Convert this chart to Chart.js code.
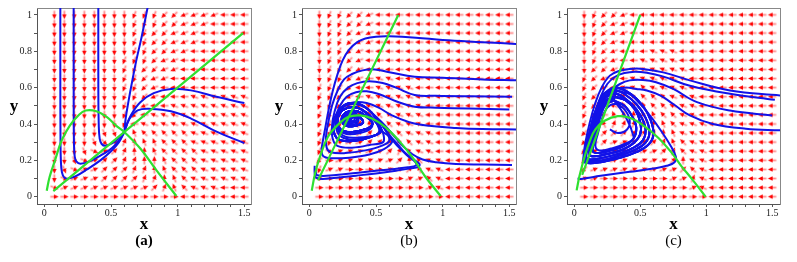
<!DOCTYPE html>
<html><head><meta charset="utf-8">
<script src="https://cdn.jsdelivr.net/npm/chart.js@4.4.1/dist/chart.umd.min.js"></script>
<style>
html,body{margin:0;padding:0;background:#fff;}
#wrap{position:relative;width:797px;height:262px;overflow:hidden;}
canvas{position:absolute;top:0;}
</style></head><body>
<div id="wrap">
<canvas id="ca" width="265" height="262" style="left:0px"></canvas>
<canvas id="cb" width="265" height="262" style="left:265px"></canvas>
<canvas id="cc" width="267" height="262" style="left:530px"></canvas>
</div>
<script>
// ---------- tick labels / captions ----------
const CAPTIONS = ['(a)', '(b)', '(c)'];
const X_TICKS = [0,0.1,0.2,0.3,0.4,0.5,0.6,0.7,0.8,0.9,1,1.1,1.2,1.3,1.4,1.5];
const X_TICK_LABELS = ['0','','','','','0.5','','','','','1','','','','','1.5'];
const Y_TICKS = [0,0.1,0.2,0.3,0.4,0.5,0.6,0.7,0.8,0.9,1];
const Y_TICK_LABELS = ['0','','0.2','','0.4','','0.6','','0.8','','1'];

// ---------- direction-field grid ----------
const X_GRID = [0.075,0.15,0.225,0.3,0.375,0.45,0.525,0.6,0.675,0.75,0.825,0.9,0.975,1.05,1.125,1.2,1.275,1.35,1.425,1.5];
const Y_GRID = [1,0.95,0.9,0.85,0.8,0.75,0.7,0.65,0.6,0.55,0.5,0.45,0.4,0.35,0.3,0.25,0.2,0.15,0.1,0.05,0];
// direction codes: hex digit d -> angle d*22.5 deg counter-clockwise from "right"; '-' = no arrow
const FIELD_A = [
"ccccccccbbbaa9999888",
"ccccccccbbbaa9998888",
"ccccccccbbaa99988888",
"ccccccccbbaa99988888",
"ccccccccbbaa99888888",
"cccccccbbba998888888",
"cccccccbbaa998888888",
"cccccccbba9988888888",
"cccccccbba9888888888",
"cccccccbba9888777777",
"cccccccbb98877777777",
"cccccccba87777777777",
"cccccccb877777777777",
"cccccdd-566666777777",
"ccccde13455666777777",
"cccdf123445666677777",
"ccdf1223344566677777",
"cdf11222334566677777",
"cf111222233456777777",
"f1111111112356777888",
"00000000000008888888"];
const FIELD_B = [
"cbbaa988888888888888",
"cbbaa988888888888888",
"cbba9988888888888888",
"cbba9988888888888888",
"cbba9888888888888888",
"cbba9888888888888888",
"cbba9888888888888888",
"cbba9877888888888888",
"bbaa8877778888888888",
"bba98777778888888888",
"bba97777777888888888",
"bbb85566777888888888",
"bbc13456777888888888",
"bb012235677788888888",
"bb111223567788888888",
"bf111112367788888888",
"a0111111246778888888",
"b1100001125778888888",
"00000000011678888888",
"00000000000178888888",
"00000000000008888888"];
const FIELD_C = [
"cbaa9888888888888888",
"cba99888888888888888",
"cba99888888888888888",
"cba98888888888888888",
"cba98887778888888888",
"cba98877778888888888",
"caa98777777888888888",
"ba988777777888888888",
"ba987767777888888888",
"ba986666677788888888",
"ba975556677788888888",
"ba854455667788888888",
"ba533334567778888888",
"a9222223457778888888",
"a8211222356778888888",
"a1111111236778888888",
"a1111111124778888888",
"a1111111112678888888",
"11000000011378888888",
"00000000000178888888",
"00000000000008888888"];

// ---------- panel (a) curves ----------
const A_PREY = [[0.018,0.033],[0.04,0.11],[0.08,0.2],[0.13,0.31],[0.19,0.39],[0.255,0.447],[0.31,0.474],[0.39,0.47],[0.47,0.438],[0.54,0.39],[0.6,0.356],[0.72,0.265],[0.84,0.146],[0.99,0.004]];
const A_PRED = [[0.0675,0.031],[1.49,0.9]];
const A_TRAJ_1 = [[0.12,1.1],[0.12,0.6],[0.121,0.35],[0.124,0.2],[0.132,0.135],[0.15,0.105],[0.18,0.1],[0.24,0.115],[0.32,0.15],[0.42,0.2],[0.5,0.25],[0.56,0.3],[0.6,0.355]];
const A_TRAJ_2 = [[0.22,1.1],[0.22,0.6],[0.222,0.3],[0.228,0.22],[0.24,0.195],[0.27,0.182],[0.34,0.195],[0.43,0.23],[0.51,0.27],[0.57,0.32],[0.6,0.355]];
const A_TRAJ_3 = [[0.405,1.1],[0.405,0.6],[0.408,0.4],[0.415,0.32],[0.43,0.29],[0.46,0.28],[0.51,0.295],[0.56,0.325],[0.6,0.355]];
const A_TRAJ_4 = [[0.78,1.06],[0.73,0.88],[0.69,0.75],[0.655,0.62],[0.63,0.52],[0.61,0.43],[0.6,0.355]];
const A_TRAJ_5 = [[1.5,0.515],[1.3,0.548],[1.1,0.585],[0.95,0.593],[0.82,0.57],[0.72,0.52],[0.65,0.45],[0.61,0.38],[0.6,0.355]];
const A_TRAJ_6 = [[1.5,0.295],[1.3,0.355],[1.1,0.43],[0.95,0.47],[0.8,0.483],[0.7,0.475],[0.64,0.43],[0.6,0.355]];

// ---------- panel (b) curves ----------
const B_PREY = [[0.018,0.033],[0.043,0.128],[0.08,0.22],[0.14,0.33],[0.22,0.4],[0.29,0.438],[0.38,0.447],[0.47,0.43],[0.57,0.383],[0.67,0.31],[0.77,0.22],[0.87,0.11],[0.985,0.004]];
const B_PRED = [[0.065,0.09],[0.667,1.0]];
const B_SPIRAL = [[0.6,0.33],[0.55,0.39],[0.47,0.46],[0.39,0.505],[0.31,0.515],[0.24,0.49],[0.19,0.43],[0.18,0.37],[0.21,0.32],[0.29,0.305],[0.4,0.315],[0.5,0.34],[0.54,0.365],[0.5,0.41],[0.43,0.46],[0.36,0.49],[0.29,0.49],[0.23,0.46],[0.21,0.41],[0.235,0.37],[0.3,0.355],[0.39,0.365],[0.46,0.385],[0.47,0.41],[0.42,0.445],[0.36,0.47],[0.3,0.47],[0.255,0.45],[0.245,0.415],[0.28,0.39],[0.34,0.39],[0.4,0.405],[0.39,0.43],[0.34,0.455],[0.29,0.455],[0.265,0.435],[0.28,0.41],[0.33,0.41],[0.36,0.425],[0.33,0.445],[0.3,0.443],[0.29,0.43],[0.31,0.425],[0.315,0.435],[0.3,0.438]];
const B_CORE = [[0.36,0.4],[0.37,0.43],[0.35,0.46],[0.31,0.47],[0.27,0.455],[0.255,0.43],[0.27,0.405],[0.31,0.395],[0.35,0.405],[0.355,0.43],[0.33,0.45],[0.3,0.452],[0.275,0.44],[0.28,0.42],[0.31,0.415],[0.34,0.425],[0.32,0.44],[0.3,0.44]];
const B_TRAJ_1 = [[1.56,0.84],[1.3,0.85],[1.0,0.862],[0.8,0.875],[0.6,0.882],[0.5,0.88],[0.42,0.87],[0.36,0.85],[0.3,0.81],[0.25,0.75],[0.21,0.67],[0.175,0.58],[0.145,0.48],[0.12,0.38],[0.1,0.3],[0.092,0.25],[0.105,0.222],[0.15,0.212],[0.3,0.215],[0.45,0.232],[0.56,0.262],[0.62,0.3]];
const B_TRAJ_2 = [[1.56,0.64],[1.3,0.645],[1.0,0.655],[0.79,0.66],[0.6,0.685],[0.49,0.7],[0.4,0.695],[0.32,0.675],[0.26,0.645],[0.21,0.58],[0.17,0.5],[0.14,0.4],[0.125,0.33],[0.13,0.27],[0.16,0.245],[0.27,0.24],[0.42,0.255],[0.54,0.28],[0.6,0.31]];
const B_TRAJ_3 = [[1.52,0.55],[1.2,0.552],[0.95,0.555],[0.79,0.56],[0.65,0.6],[0.55,0.625],[0.45,0.635],[0.36,0.625],[0.29,0.6],[0.23,0.55],[0.19,0.47],[0.17,0.39],[0.175,0.32],[0.21,0.28],[0.32,0.27],[0.45,0.285],[0.56,0.31]];
const B_TRAJ_4 = [[1.5,0.48],[1.2,0.485],[0.95,0.49],[0.79,0.495],[0.65,0.525],[0.52,0.565],[0.43,0.58],[0.35,0.575],[0.28,0.55],[0.23,0.5],[0.2,0.44],[0.2,0.38],[0.23,0.335],[0.3,0.315],[0.42,0.325],[0.52,0.35]];
const B_TRAJ_5 = [[1.56,0.37],[1.3,0.372],[1.1,0.378],[0.9,0.39],[0.75,0.41],[0.62,0.447],[0.52,0.49],[0.43,0.515],[0.34,0.52],[0.27,0.505],[0.22,0.47],[0.2,0.42],[0.22,0.37],[0.28,0.345],[0.38,0.35],[0.46,0.375]];
const B_TRAJ_6 = [[1.52,0.175],[1.3,0.177],[1.1,0.18],[0.95,0.19],[0.85,0.205],[0.77,0.235],[0.7,0.28],[0.64,0.33],[0.57,0.39],[0.5,0.44],[0.42,0.49],[0.34,0.51],[0.27,0.5],[0.22,0.46],[0.2,0.41],[0.22,0.36],[0.27,0.33],[0.36,0.325]];
const B_TRAJ_7 = [[0.04,0.17],[0.04,0.13],[0.05,0.105],[0.1,0.098],[0.2,0.105],[0.35,0.116],[0.5,0.128],[0.65,0.143],[0.76,0.156],[0.82,0.166],[0.826,0.18],[0.79,0.2],[0.72,0.24],[0.66,0.29],[0.6,0.34]];
const B_TRAJ_8 = [[0.045,0.155],[0.06,0.118],[0.2,0.12],[0.4,0.135],[0.6,0.15],[0.74,0.162],[0.8,0.172],[0.795,0.19],[0.73,0.23],[0.66,0.28],[0.6,0.33]];

// ---------- panel (c) curves ----------
const C_PREY = [[0.018,0.035],[0.04,0.115],[0.08,0.225],[0.12,0.31],[0.16,0.37],[0.23,0.418],[0.33,0.443],[0.43,0.432],[0.53,0.388],[0.64,0.322],[0.74,0.24],[0.81,0.17],[0.9,0.09],[0.995,0.0]];
const C_PRED = [[0.06,0.12],[0.5,1.0]];
const C_LOOP_1 = [[0.32,0.6],[0.24,0.575],[0.17,0.49],[0.125,0.38],[0.09,0.27],[0.072,0.2],[0.1,0.185],[0.2,0.19],[0.35,0.215],[0.47,0.245],[0.56,0.285],[0.6,0.34],[0.58,0.42],[0.52,0.5],[0.43,0.565],[0.32,0.6]];
const C_LOOP_2 = [[0.31,0.57],[0.24,0.545],[0.18,0.47],[0.14,0.38],[0.11,0.29],[0.09,0.22],[0.12,0.205],[0.22,0.215],[0.35,0.24],[0.45,0.27],[0.52,0.31],[0.54,0.37],[0.5,0.45],[0.42,0.52],[0.31,0.57]];
const C_LOOP_3 = [[0.3,0.53],[0.24,0.51],[0.2,0.45],[0.17,0.37],[0.15,0.3],[0.14,0.25],[0.18,0.24],[0.28,0.255],[0.38,0.28],[0.45,0.32],[0.47,0.38],[0.44,0.44],[0.38,0.5],[0.3,0.53]];
const C_LOOP_4 = [[0.315,0.585],[0.24,0.56],[0.175,0.48],[0.13,0.38],[0.1,0.28],[0.08,0.21],[0.11,0.195],[0.21,0.2],[0.35,0.228],[0.46,0.258],[0.54,0.298],[0.57,0.355],[0.54,0.435],[0.47,0.51],[0.38,0.565],[0.315,0.585]];
const C_LOOP_5 = [[0.305,0.55],[0.24,0.528],[0.19,0.46],[0.155,0.375],[0.13,0.295],[0.115,0.235],[0.15,0.222],[0.25,0.235],[0.37,0.26],[0.45,0.295],[0.5,0.345],[0.5,0.41],[0.46,0.48],[0.39,0.53],[0.305,0.55]];
const C_TRAJ_1 = [[1.56,0.557],[1.18,0.584],[0.876,0.64],[0.674,0.684],[0.52,0.703],[0.42,0.703],[0.346,0.693],[0.27,0.666],[0.207,0.6],[0.157,0.51],[0.115,0.4],[0.085,0.3],[0.07,0.22],[0.08,0.19],[0.15,0.185],[0.3,0.205],[0.45,0.24],[0.56,0.285],[0.6,0.34],[0.58,0.42],[0.52,0.5],[0.43,0.565]];
const C_TRAJ_2 = [[1.52,0.533],[1.18,0.566],[0.876,0.61],[0.67,0.662],[0.55,0.682],[0.46,0.688],[0.38,0.68],[0.31,0.66],[0.25,0.62],[0.2,0.55],[0.16,0.46],[0.13,0.37],[0.1,0.28],[0.085,0.215],[0.11,0.198]];
const C_TRAJ_3 = [[1.5,0.447],[1.18,0.474],[0.93,0.52],[0.75,0.593],[0.62,0.63],[0.52,0.642],[0.42,0.64],[0.346,0.62],[0.28,0.584],[0.22,0.52]];
const C_TRAJ_4 = [[1.56,0.365],[1.3,0.374],[1.05,0.4],[0.876,0.447],[0.75,0.51],[0.65,0.557],[0.55,0.584],[0.47,0.593],[0.38,0.6]];
const C_TRAJ_5 = [[0.025,0.1],[0.05,0.098],[0.2,0.115],[0.42,0.137],[0.6,0.155],[0.7,0.17],[0.76,0.19],[0.77,0.22],[0.73,0.28],[0.66,0.36],[0.58,0.44],[0.5,0.51],[0.4,0.57]];
const C_TRAJ_6 = [[0.27,0.37],[0.33,0.35],[0.4,0.37],[0.42,0.42],[0.38,0.48],[0.31,0.51],[0.25,0.49],[0.21,0.43],[0.18,0.35],[0.16,0.28],[0.19,0.255],[0.28,0.265],[0.38,0.29],[0.45,0.33]];

// ---------- styling ----------
const BLUE = '#1212e8', GREEN = '#2fe02f';
const SERIF = '"Liberation Serif", "Times New Roman", serif';

function makeArrow() {
  const c = document.createElement('canvas'); c.width = 11; c.height = 11;
  const g = c.getContext('2d');
  g.strokeStyle = 'rgba(255,120,120,0.85)'; g.lineWidth = 1.8;
  g.beginPath(); g.moveTo(1.4, 5.5); g.lineTo(6.4, 5.5); g.stroke();
  g.fillStyle = '#ff0000';
  g.beginPath(); g.moveTo(5.0, 3.3); g.lineTo(9.8, 5.5); g.lineTo(5.0, 7.7); g.closePath(); g.fill();
  return c;
}
const ARROW_IMG = makeArrow();

function pts(arr) { return arr.map(p => ({x: p[0], y: p[1]})); }
function curve(arr, color, w) {
  return {data: pts(arr), showLine: true, borderColor: color, borderWidth: w, pointRadius: 0, pointHoverRadius: 0, tension: 0.4, fill: false};
}
function arrows(field) {
  const data = [], rot = [];
  field.forEach((row, i) => {
    for (let k = 0; k < row.length; k++) {
      const ch = row[k];
      if (ch === '-') continue;
      data.push({x: X_GRID[k], y: Y_GRID[i]});
      rot.push(-parseInt(ch, 16) * 22.5);
    }
  });
  return {data, showLine: false, pointStyle: ARROW_IMG, pointRadius: 1, pointHoverRadius: 1, pointRotation: rot};
}

function textPlugin(caption, bold) {
  return {
    id: 'paneltext',
    afterDraw(chart) {
      const ctx = chart.ctx, a = chart.chartArea, cx = (a.left + a.right) / 2;
      ctx.save();
      ctx.fillStyle = '#000'; ctx.textAlign = 'center'; ctx.textBaseline = 'middle';
      ctx.font = 'bold 17px ' + SERIF;
      ctx.fillText('x', cx, 225);
      ctx.fillText('y', 14, 107);
      ctx.font = (bold ? 'bold ' : '') + '15px ' + SERIF;
      ctx.fillText(caption, cx, 241);
      ctx.restore();
    }
  };
}

function makeChart(id, greens, blues, field, caption, bold, xmax, padRight) {
  const datasets = [];
  greens.forEach(g => datasets.push(curve(g, GREEN, 2.2)));
  blues.forEach(b => datasets.push(curve(b, BLUE, 2)));
  datasets.push(arrows(field));
  const tickFont = {family: SERIF, size: 10};
  new Chart(document.getElementById(id), {
    type: 'scatter',
    data: {datasets},
    options: {
      responsive: false, animation: false, events: [],
      layout: {padding: {left: 0, right: padRight, top: 7, bottom: 0}},
      plugins: {legend: {display: false}, tooltip: {enabled: false}},
      scales: {
        x: {
          type: 'linear', position: 'bottom', min: -0.055, max: xmax,
          afterBuildTicks: s => { s.ticks = X_TICKS.map(v => ({value: v})); },
          afterFit: s => { s.height = 58; },
          ticks: {callback: (v, i) => X_TICK_LABELS[i], autoSkip: false, maxRotation: 0, padding: 0, font: tickFont, color: '#222'},
          grid: {display: true, drawOnChartArea: false, drawTicks: true, tickLength: 3, color: '#555'},
          border: {display: true, color: '#555', width: 1}
        },
        y: {
          type: 'linear', position: 'left', min: -0.04, max: 1.038,
          afterBuildTicks: s => { s.ticks = Y_TICKS.map(v => ({value: v})); },
          afterFit: s => { s.width = 37; },
          ticks: {callback: (v, i) => Y_TICK_LABELS[i], autoSkip: false, padding: 2, font: tickFont, color: '#222'},
          grid: {display: true, drawOnChartArea: false, drawTicks: true, tickLength: 3, color: '#555'},
          border: {display: true, color: '#555', width: 1}
        },
        x2: {
          type: 'linear', position: 'top', min: -0.055, max: xmax,
          afterFit: s => { s.height = 0; },
          ticks: {display: false}, grid: {display: false},
          border: {display: true, color: '#888', width: 1}
        },
        y2: {
          type: 'linear', position: 'right', min: -0.04, max: 1.038,
          afterFit: s => { s.width = 0; },
          ticks: {display: false}, grid: {display: false},
          border: {display: true, color: '#888', width: 1}
        }
      }
    },
    plugins: [textPlugin(caption, bold)]
  });
}

makeChart('ca', [A_PREY, A_PRED],
  [A_TRAJ_1, A_TRAJ_2, A_TRAJ_3, A_TRAJ_4, A_TRAJ_5, A_TRAJ_6],
  FIELD_A, CAPTIONS[0], true, 1.55, 14);

makeChart('cb', [B_PREY, B_PRED],
  [B_TRAJ_1.concat(B_SPIRAL), B_TRAJ_2.concat(B_SPIRAL.slice(1)), B_TRAJ_3.concat(B_SPIRAL.slice(2)),
   B_TRAJ_4.concat(B_SPIRAL.slice(13)), B_TRAJ_5.concat(B_SPIRAL.slice(23)), B_TRAJ_6.concat(B_SPIRAL.slice(11)),
   B_TRAJ_7.concat(B_SPIRAL.slice(1)), B_TRAJ_8.concat(B_SPIRAL.slice(12)), B_CORE],
  FIELD_B, CAPTIONS[1], false, 1.55, 14);

makeChart('cc', [C_PREY, C_PRED],
  [C_TRAJ_1.concat(C_LOOP_1, C_LOOP_4), C_TRAJ_2.concat(C_LOOP_4.slice(7), C_LOOP_2, C_LOOP_5),
   C_TRAJ_3.concat(C_LOOP_5.slice(2), C_LOOP_2, C_LOOP_3), C_TRAJ_4.concat(C_LOOP_1.slice(1), C_LOOP_5, C_LOOP_3),
   C_TRAJ_5.concat(C_LOOP_1.slice(1), C_LOOP_4, C_LOOP_2), C_TRAJ_6.concat(C_LOOP_3, C_LOOP_5)],
  FIELD_C, CAPTIONS[2], false, 1.559, 17);
</script>
</body></html>
